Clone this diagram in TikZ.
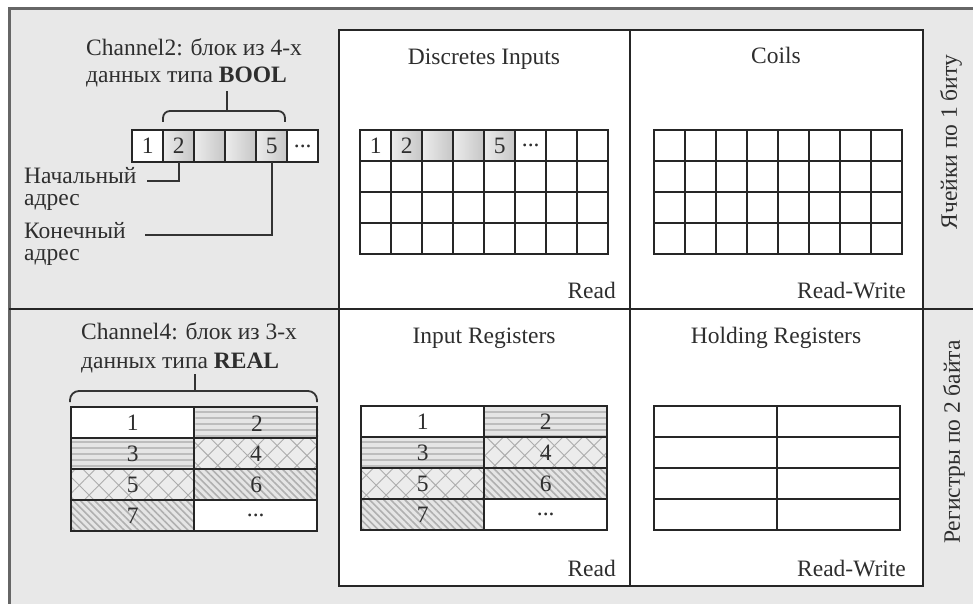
\documentclass[tikz,border=0pt]{standalone}
\usepackage{fontspec}
\setmainfont{Liberation Serif}
\usetikzlibrary{patterns.meta}
\newcommand\mfs{\fontsize{23.5}{26}\selectfont}
\begin{document}
\begin{tikzpicture}[x=1pt,y=-1pt,
  every node/.style={font=\mfs, text=black!82, inner sep=0pt},
  frame/.style={line width=3pt, draw=black!60},
  panel/.style={line width=1.8pt, draw=black!85},
  gl/.style={line width=1.7pt, draw=black!85},
  conn/.style={line width=1.8pt, draw=black!80},
  cell/.style={minimum width=31pt, minimum height=31pt, inner sep=0pt, anchor=north west},
  box/.style={cell, minimum height=32pt},
  reg/.style={cell, minimum width=123pt},
  wht/.style={fill=white},
  grad/.style={left color=gray!15, right color=gray!45},
  hstr/.style={preaction={fill=gray!20}, pattern={Lines[angle=0,distance=6pt,line width=2.8pt]}, pattern color=gray!52},
  xhat/.style={preaction={fill=gray!15}, pattern={Hatch[angle=45,distance=14pt,line width=0.9pt]}, pattern color=gray!65},
  dstr/.style={preaction={fill=gray!20}, pattern={Lines[angle=-45,distance=5pt,line width=1.6pt]}, pattern color=gray!62},
]
\useasboundingbox (0,0) rectangle (973,604);
\fill[white] (0,0) rectangle (973,604);
\fill[gray!18] (9,9) rectangle (973,604);
\fill[white] (339,30) rectangle (923,586);

% ---------- top-left: Channel2 ----------
\node[anchor=base west] (t2a) at (86,56) {Channel2: блок из 4-х};
\node[anchor=base west] (t2b) at (86,83) {данных типа \textbf{BOOL}};
\node[box,wht]  (b0) at (132,130) {1};
\node[box,grad] (b1) at (163,130) {2};
\node[box,grad] (b2) at (194,130) {};
\node[box,grad] (b3) at (225,130) {};
\node[box,grad] (b4) at (256,130) {5};
\node[box,wht]  (b5) at (287,130) {...};
\draw[gl] (132,130) rectangle (318,162);
\foreach \k in {1,...,5} \draw[gl] (132+31*\k,130) -- (132+31*\k,162);
\coordinate (brA) at (227,111);
\draw[conn, rounded corners=7pt] (163,122) -- (163,111) -- (285,111) -- (285,122);
\draw[conn] (brA) -- (227,91);

\node[anchor=base west] (la1) at (24,183) {Начальный};
\node[anchor=base west] (la2) at (24,205) {адрес};
\node[anchor=base west] (lb1) at (24,238) {Конечный};
\node[anchor=base west] (lb2) at (24,260) {адрес};
\coordinate (eA) at (147,181);
\coordinate (eB) at (145,235);
\draw[conn] (b1.south) |- (eA);
\draw[conn] (b4.south) |- (eB);

% ---------- bottom-left: Channel4 ----------
\node[anchor=base west] (t4a) at (81,339) {Channel4: блок из 3-х};
\node[anchor=base west] (t4b) at (81,368) {данных типа \textbf{REAL}};
\coordinate (brB) at (195,391);
\draw[conn, rounded corners=9pt] (70,402) -- (70,391) -- (317,391) -- (317,402);
\draw[conn] (brB) -- (195,374);

\newcommand\reggrid[3]{%
  \node[reg,wht]  (#1a) at (#2,#3) {1};
  \node[reg,hstr] (#1b) at (#2+123,#3) {2};
  \node[reg,hstr] (#1c) at (#2,#3+31) {3};
  \node[reg,xhat] (#1d) at (#2+123,#3+31) {4};
  \node[reg,xhat] (#1e) at (#2,#3+62) {5};
  \node[reg,dstr] (#1f) at (#2+123,#3+62) {6};
  \node[reg,dstr] (#1g) at (#2,#3+93) {7};
  \node[reg,wht]  (#1h) at (#2+123,#3+93) {...};
  \draw[gl] (#2,#3) rectangle (#2+246,#3+124);
  \draw[gl] (#2+123,#3) -- (#2+123,#3+124);
  \foreach \k in {1,2,3} \draw[gl] (#2,#3+31*\k) -- (#2+246,#3+31*\k);
}
\reggrid{ch}{71}{407}

% ---------- Discretes Inputs ----------
\node[anchor=base] (tdi) at (484,65) {Discretes Inputs};
\node[cell,wht]  (d00) at (360,130) {1};
\node[cell,grad] (d01) at (391,130) {2};
\node[cell,grad] (d02) at (422,130) {};
\node[cell,grad] (d03) at (453,130) {};
\node[cell,grad] (d04) at (484,130) {5};
\node[cell,wht]  (d05) at (515,130) {...};
\draw[gl] (360,130) rectangle (608,254);
\foreach \k in {1,...,7} \draw[gl] (360+31*\k,130) -- (360+31*\k,254);
\foreach \k in {1,2,3} \draw[gl] (360,130+31*\k) -- (608,130+31*\k);
\node[anchor=base east] (rd1) at (616,298) {Read};

% ---------- Coils ----------
\node[anchor=base] (tco) at (776,64) {Coils};
\draw[gl] (654,130) rectangle (902,254);
\foreach \k in {1,...,7} \draw[gl] (654+31*\k,130) -- (654+31*\k,254);
\foreach \k in {1,2,3} \draw[gl] (654,130+31*\k) -- (902,130+31*\k);
\node[anchor=base east] (rw1) at (906,298) {Read-Write};

% ---------- Input Registers ----------
\node[anchor=base] (tir) at (484,343) {Input Registers};
\reggrid{ir}{361}{406}
\node[anchor=base east] (rd2) at (616,576) {Read};

% ---------- Holding Registers ----------
\node[anchor=base] (thr) at (776,343) {Holding Registers};
\draw[gl] (654,406) rectangle (900,530);
\draw[gl] (777,406) -- (777,530);
\foreach \k in {1,2,3} \draw[gl] (654,406+31*\k) -- (900,406+31*\k);
\node[anchor=base east] (rw2) at (906,576) {Read-Write};

% ---------- side labels ----------
\node[rotate=90] (s1) at (951,142) {Ячейки по 1 биту};
\node[rotate=90] (s2) at (954,442) {Регистры по 2 байта};

% ---------- frame ----------
\draw[frame] (9,604) -- (9,9) -- (973,9);
\draw[panel] (9,309) -- (973,309);
\draw[panel] (339,30) rectangle (923,586);
\draw[panel] (630,30) -- (630,586);
\end{tikzpicture}
\end{document}
